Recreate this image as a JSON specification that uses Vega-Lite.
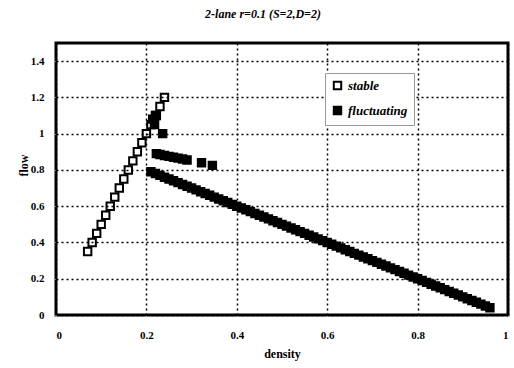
{
  "$schema": "https://vega.github.io/schema/vega-lite/v6.json",
  "width": 452,
  "height": 272,
  "autosize": "none",
  "padding": {"left": 56, "top": 43, "right": 6, "bottom": 53},
  "title": {"text": "2-lane r=0.1 (S=2,D=2)", "font": "Liberation Serif", "fontSize": 12, "fontStyle": "italic", "fontWeight": "bold", "dx": -19, "offset": 22, "color": "black"},
  "data": {"values": [
    {"d": 0.07, "f": 0.35, "s": "stable"},
    {"d": 0.08, "f": 0.40, "s": "stable"},
    {"d": 0.09, "f": 0.45, "s": "stable"},
    {"d": 0.10, "f": 0.50, "s": "stable"},
    {"d": 0.11, "f": 0.55, "s": "stable"},
    {"d": 0.12, "f": 0.60, "s": "stable"},
    {"d": 0.13, "f": 0.65, "s": "stable"},
    {"d": 0.14, "f": 0.70, "s": "stable"},
    {"d": 0.15, "f": 0.75, "s": "stable"},
    {"d": 0.16, "f": 0.80, "s": "stable"},
    {"d": 0.17, "f": 0.85, "s": "stable"},
    {"d": 0.18, "f": 0.90, "s": "stable"},
    {"d": 0.19, "f": 0.95, "s": "stable"},
    {"d": 0.20, "f": 1.00, "s": "stable"},
    {"d": 0.21, "f": 1.05, "s": "stable"},
    {"d": 0.22, "f": 1.10, "s": "stable"},
    {"d": 0.23, "f": 1.15, "s": "stable"},
    {"d": 0.24, "f": 1.20, "s": "stable"},
    {"d": 0.214, "f": 1.08, "s": "fluctuating"},
    {"d": 0.218, "f": 1.05, "s": "fluctuating"},
    {"d": 0.222, "f": 1.10, "s": "fluctuating"},
    {"d": 0.236, "f": 1.00, "s": "fluctuating"},
    {"d": 0.222, "f": 0.89, "s": "fluctuating"},
    {"d": 0.23, "f": 0.885, "s": "fluctuating"},
    {"d": 0.24, "f": 0.88, "s": "fluctuating"},
    {"d": 0.25, "f": 0.875, "s": "fluctuating"},
    {"d": 0.26, "f": 0.87, "s": "fluctuating"},
    {"d": 0.27, "f": 0.865, "s": "fluctuating"},
    {"d": 0.28, "f": 0.86, "s": "fluctuating"},
    {"d": 0.29, "f": 0.855, "s": "fluctuating"},
    {"d": 0.322, "f": 0.84, "s": "fluctuating"},
    {"d": 0.346, "f": 0.825, "s": "fluctuating"},
    {"d": 0.21, "f": 0.79, "s": "fluctuating"},
    {"d": 0.22, "f": 0.78, "s": "fluctuating"},
    {"d": 0.23, "f": 0.77, "s": "fluctuating"},
    {"d": 0.24, "f": 0.76, "s": "fluctuating"},
    {"d": 0.25, "f": 0.75, "s": "fluctuating"},
    {"d": 0.26, "f": 0.74, "s": "fluctuating"},
    {"d": 0.27, "f": 0.73, "s": "fluctuating"},
    {"d": 0.28, "f": 0.72, "s": "fluctuating"},
    {"d": 0.29, "f": 0.71, "s": "fluctuating"},
    {"d": 0.30, "f": 0.70, "s": "fluctuating"},
    {"d": 0.31, "f": 0.69, "s": "fluctuating"},
    {"d": 0.32, "f": 0.68, "s": "fluctuating"},
    {"d": 0.33, "f": 0.67, "s": "fluctuating"},
    {"d": 0.34, "f": 0.66, "s": "fluctuating"},
    {"d": 0.35, "f": 0.65, "s": "fluctuating"},
    {"d": 0.36, "f": 0.64, "s": "fluctuating"},
    {"d": 0.37, "f": 0.63, "s": "fluctuating"},
    {"d": 0.38, "f": 0.62, "s": "fluctuating"},
    {"d": 0.39, "f": 0.61, "s": "fluctuating"},
    {"d": 0.40, "f": 0.60, "s": "fluctuating"},
    {"d": 0.41, "f": 0.59, "s": "fluctuating"},
    {"d": 0.42, "f": 0.58, "s": "fluctuating"},
    {"d": 0.43, "f": 0.57, "s": "fluctuating"},
    {"d": 0.44, "f": 0.56, "s": "fluctuating"},
    {"d": 0.45, "f": 0.55, "s": "fluctuating"},
    {"d": 0.46, "f": 0.54, "s": "fluctuating"},
    {"d": 0.47, "f": 0.53, "s": "fluctuating"},
    {"d": 0.48, "f": 0.52, "s": "fluctuating"},
    {"d": 0.49, "f": 0.51, "s": "fluctuating"},
    {"d": 0.50, "f": 0.50, "s": "fluctuating"},
    {"d": 0.51, "f": 0.49, "s": "fluctuating"},
    {"d": 0.52, "f": 0.48, "s": "fluctuating"},
    {"d": 0.53, "f": 0.47, "s": "fluctuating"},
    {"d": 0.54, "f": 0.46, "s": "fluctuating"},
    {"d": 0.55, "f": 0.45, "s": "fluctuating"},
    {"d": 0.56, "f": 0.44, "s": "fluctuating"},
    {"d": 0.57, "f": 0.43, "s": "fluctuating"},
    {"d": 0.58, "f": 0.42, "s": "fluctuating"},
    {"d": 0.59, "f": 0.41, "s": "fluctuating"},
    {"d": 0.60, "f": 0.40, "s": "fluctuating"},
    {"d": 0.61, "f": 0.39, "s": "fluctuating"},
    {"d": 0.62, "f": 0.38, "s": "fluctuating"},
    {"d": 0.63, "f": 0.37, "s": "fluctuating"},
    {"d": 0.64, "f": 0.36, "s": "fluctuating"},
    {"d": 0.65, "f": 0.35, "s": "fluctuating"},
    {"d": 0.66, "f": 0.34, "s": "fluctuating"},
    {"d": 0.67, "f": 0.33, "s": "fluctuating"},
    {"d": 0.68, "f": 0.32, "s": "fluctuating"},
    {"d": 0.69, "f": 0.31, "s": "fluctuating"},
    {"d": 0.70, "f": 0.30, "s": "fluctuating"},
    {"d": 0.71, "f": 0.29, "s": "fluctuating"},
    {"d": 0.72, "f": 0.28, "s": "fluctuating"},
    {"d": 0.73, "f": 0.27, "s": "fluctuating"},
    {"d": 0.74, "f": 0.26, "s": "fluctuating"},
    {"d": 0.75, "f": 0.25, "s": "fluctuating"},
    {"d": 0.76, "f": 0.24, "s": "fluctuating"},
    {"d": 0.77, "f": 0.23, "s": "fluctuating"},
    {"d": 0.78, "f": 0.22, "s": "fluctuating"},
    {"d": 0.79, "f": 0.21, "s": "fluctuating"},
    {"d": 0.80, "f": 0.20, "s": "fluctuating"},
    {"d": 0.81, "f": 0.19, "s": "fluctuating"},
    {"d": 0.82, "f": 0.18, "s": "fluctuating"},
    {"d": 0.83, "f": 0.17, "s": "fluctuating"},
    {"d": 0.84, "f": 0.16, "s": "fluctuating"},
    {"d": 0.85, "f": 0.15, "s": "fluctuating"},
    {"d": 0.86, "f": 0.14, "s": "fluctuating"},
    {"d": 0.87, "f": 0.13, "s": "fluctuating"},
    {"d": 0.88, "f": 0.12, "s": "fluctuating"},
    {"d": 0.89, "f": 0.11, "s": "fluctuating"},
    {"d": 0.90, "f": 0.10, "s": "fluctuating"},
    {"d": 0.91, "f": 0.09, "s": "fluctuating"},
    {"d": 0.92, "f": 0.08, "s": "fluctuating"},
    {"d": 0.93, "f": 0.07, "s": "fluctuating"},
    {"d": 0.94, "f": 0.06, "s": "fluctuating"},
    {"d": 0.95, "f": 0.05, "s": "fluctuating"},
    {"d": 0.96, "f": 0.04, "s": "fluctuating"}
  ]},
  "mark": {"type": "square", "strokeWidth": 2, "opacity": 1},
  "encoding": {
    "x": {"field": "d", "type": "quantitative", "title": "density",
      "scale": {"domain": [0, 1], "nice": false},
      "axis": {"values": [0, 0.2, 0.4, 0.6, 0.8, 1], "format": "~g", "zindex": 1,
        "grid": true, "gridColor": "black", "gridWidth": 1.5, "gridDash": [2, 3],
        "domainColor": "black", "tickColor": "white", "tickSize": 1,
        "labelFont": "Liberation Serif", "labelFontSize": 11, "labelFontWeight": "bold", "labelColor": "black",
        "titleFont": "Liberation Serif", "titleFontSize": 12, "titleFontWeight": "bold", "titleColor": "black",
        "labelPadding": 13, "titleY": 38, "titleBaseline": "middle"}},
    "y": {"field": "f", "type": "quantitative", "title": "flow",
      "scale": {"domain": [0, 1.5], "nice": false},
      "axis": {"values": [0, 0.2, 0.4, 0.6, 0.8, 1, 1.2, 1.4], "format": "~g", "zindex": 1,
        "grid": true, "gridColor": "black", "gridWidth": 1.5, "gridDash": [2, 3],
        "domainColor": "black", "tickColor": "white", "tickSize": 1,
        "labelFont": "Liberation Serif", "labelFontSize": 11, "labelFontWeight": "bold", "labelColor": "black",
        "titleFont": "Liberation Serif", "titleFontSize": 12, "titleFontWeight": "bold", "titleColor": "black",
        "labelPadding": 11, "titleX": -33, "titleY": 122, "titleBaseline": "middle"}},
    "fill": {"field": "s", "type": "nominal", "title": null,
      "scale": {"domain": ["stable", "fluctuating"], "range": ["white", "black"]}},
    "stroke": {"field": "s", "type": "nominal", "title": null,
      "scale": {"domain": ["stable", "fluctuating"], "range": ["black", "black"]}},
    "size": {"field": "s", "type": "nominal", "title": null,
      "scale": {"domain": ["stable", "fluctuating"], "range": [55, 55]}}
  },
  "config": {
    "view": {"stroke": "black", "strokeWidth": 3},
    "legend": {
      "orient": "none", "legendX": 269, "legendY": 30, "zindex": 2,
      "strokeColor": "#999", "fillColor": "white", "padding": 6,
      "labelFont": "Liberation Serif", "labelFontSize": 13, "labelFontStyle": "italic", "labelFontWeight": "bold", "labelColor": "black",
      "rowPadding": 8, "symbolType": "square", "symbolStrokeWidth": 2, "symbolOpacity": 1
    }
  }
}
